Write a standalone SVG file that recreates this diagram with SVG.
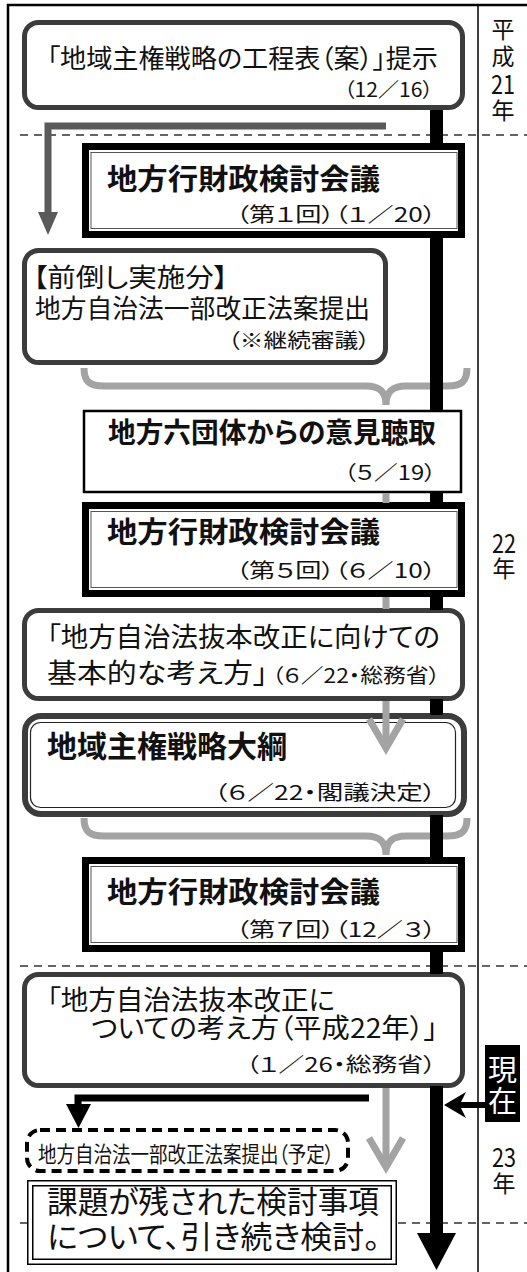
<svg xmlns="http://www.w3.org/2000/svg" width="527" height="1272" viewBox="0 0 527 1272">
<style>
text{font-family:"Noto Sans CJK JP","Noto Sans CJK SC",sans-serif;font-feature-settings:"palt";fill:#111}
.h{font-weight:400}
.b{font-weight:700}
.s{font-size:20px;font-weight:400}
.rb{fill:#fff;stroke:#3c3c3c;stroke-width:5}
.kb{fill:#fff;stroke:#000;stroke-width:7}
.ki{fill:none;stroke:#555;stroke-width:1}
.dash{stroke:#333;stroke-width:1.5;stroke-dasharray:8 6;fill:none}
.g1{stroke:#5a5a5a;stroke-width:7;fill:none}
.g2{stroke:#a3a3a3;stroke-width:7;fill:none}
.blk{stroke:#000;stroke-width:13;fill:none}
.yr{font-size:23px;font-weight:400}
</style>
<rect width="527" height="1272" fill="#fff"/>
<g id="frame">
<line x1="8" y1="4" x2="8" y2="1272" stroke="#000" stroke-width="2.5"/>
<line x1="7" y1="5" x2="527" y2="5" stroke="#000" stroke-width="2.5"/>
<line x1="478" y1="5" x2="478" y2="1272" stroke="#000" stroke-width="1.5"/>
<line class="dash" x1="20" y1="135" x2="527" y2="135"/>
<line class="dash" x1="20" y1="966" x2="527" y2="966"/>
<line class="dash" x1="20" y1="1223" x2="527" y2="1223"/>
</g>
<g id="years">
<text class="yr" text-anchor="middle"><tspan x="503" y="38">平</tspan><tspan x="503" y="65">成</tspan><tspan x="503" y="94" font-size="26" textLength="24" lengthAdjust="spacingAndGlyphs">21</tspan><tspan x="503" y="119">年</tspan></text>
<text class="yr" text-anchor="middle"><tspan x="504" y="553" font-size="26" textLength="24" lengthAdjust="spacingAndGlyphs">22</tspan><tspan x="504" y="577">年</tspan></text>
<text class="yr" text-anchor="middle"><tspan x="504" y="1167" font-size="26" textLength="24" lengthAdjust="spacingAndGlyphs">23</tspan><tspan x="504" y="1192">年</tspan></text>
</g>
<g id="n1">
<rect class="rb" x="24.5" y="22.5" width="438" height="85" rx="14"/>
<text class="h" x="47" y="68" font-size="26" textLength="391" lengthAdjust="spacingAndGlyphs">「地域主権戦略の工程表（案）」提示</text>
<text class="s" x="344" y="97" textLength="89" lengthAdjust="spacingAndGlyphs">（12／16）</text>
</g>
<g id="n2">
<rect class="kb" x="85.5" y="146.5" width="376" height="88"/>
<rect class="ki" x="91" y="152.5" width="366" height="76"/>
<text class="b" x="107" y="190" font-size="29" textLength="273" lengthAdjust="spacingAndGlyphs">地方行財政検討会議</text>
<text class="s" x="236" y="222" textLength="200" lengthAdjust="spacingAndGlyphs">（第１回）（１／20）</text>
</g>
<g id="n3">
<rect class="rb" x="24.5" y="250.5" width="361" height="112" rx="14"/>
<text class="h" x="33" y="287" font-size="26" textLength="195" lengthAdjust="spacingAndGlyphs">【前倒し実施分】</text>
<text class="h" x="35" y="318" font-size="26" textLength="335" lengthAdjust="spacingAndGlyphs">地方自治法一部改正法案提出</text>
<text class="s" x="228" y="348" font-size="21" textLength="142" lengthAdjust="spacingAndGlyphs">（※継続審議）</text>
</g>
<g id="n4">
<rect x="84" y="411" width="377" height="81" fill="#fff" stroke="#000" stroke-width="2.5"/>
<text class="b" x="108" y="443" font-size="28" textLength="328" lengthAdjust="spacingAndGlyphs">地方六団体からの意見聴取</text>
<text class="s" x="344" y="480" textLength="92" lengthAdjust="spacingAndGlyphs">（５／19）</text>
</g>
<g id="n5">
<rect class="kb" x="85.5" y="505.5" width="376" height="88"/>
<rect class="ki" x="91" y="511.5" width="366" height="76"/>
<text class="b" x="107" y="543" font-size="29" textLength="273" lengthAdjust="spacingAndGlyphs">地方行財政検討会議</text>
<text class="s" x="236" y="578" textLength="200" lengthAdjust="spacingAndGlyphs">（第５回）（６／10）</text>
</g>
<g id="n6">
<rect class="rb" x="24.5" y="610.5" width="438" height="88" rx="14"/>
<text class="h" x="47" y="647" font-size="27" textLength="393" lengthAdjust="spacingAndGlyphs">「地方自治法抜本改正に向けての</text>
<text class="h" x="47" y="683" font-size="27" textLength="221" lengthAdjust="spacingAndGlyphs">基本的な考え方」</text>
<text class="s" x="272" y="683" textLength="168" lengthAdjust="spacingAndGlyphs">（６／22・総務省）</text>
</g>
<g id="n7">
<rect x="25" y="716" width="439" height="98" rx="16" fill="#fff" stroke="#3c3c3c" stroke-width="6"/>
<rect x="30.5" y="722.5" width="425" height="85" rx="10" fill="none" stroke="#222" stroke-width="1.2"/>
<text class="b" x="47" y="757" font-size="30" textLength="240" lengthAdjust="spacingAndGlyphs">地域主権戦略大綱</text>
<text class="s" x="214" y="800" font-size="21" textLength="222" lengthAdjust="spacingAndGlyphs">（６／22・閣議決定）</text>
</g>
<g id="n8">
<rect class="kb" x="85.5" y="860.5" width="376" height="88"/>
<rect class="ki" x="91" y="866.5" width="366" height="76"/>
<text class="b" x="107" y="903" font-size="29" textLength="273" lengthAdjust="spacingAndGlyphs">地方行財政検討会議</text>
<text class="s" x="236" y="937" textLength="200" lengthAdjust="spacingAndGlyphs">（第７回）（12／３）</text>
</g>
<g id="n9">
<rect class="rb" x="24.5" y="974.5" width="438" height="111" rx="14"/>
<text class="h" x="47" y="1010" font-size="27" textLength="288" lengthAdjust="spacingAndGlyphs">「地方自治法抜本改正に</text>
<text class="h" x="91" y="1038" font-size="27" textLength="347" lengthAdjust="spacingAndGlyphs">ついての考え方（平成22年）」</text>
<text class="s" x="246" y="1072" font-size="21" textLength="190" lengthAdjust="spacingAndGlyphs">（１／26・総務省）</text>
</g>
<g id="n10">
<rect x="27" y="1130" width="321" height="41" rx="13" fill="#fff" stroke="#000" stroke-width="4" stroke-dasharray="10 6"/>
<text class="h" x="38" y="1162" font-size="22" textLength="296" lengthAdjust="spacingAndGlyphs">地方自治法一部改正法案提出（予定）</text>
</g>
<g id="n11">
<rect x="27.75" y="1180.75" width="368.5" height="83.5" fill="#fff" stroke="#000" stroke-width="1.5"/>
<rect x="32.75" y="1185.75" width="358.5" height="73.5" fill="none" stroke="#000" stroke-width="1.5"/>
<text class="h" x="47" y="1213" font-size="31" textLength="332" lengthAdjust="spacingAndGlyphs">課題が残された検討事項</text>
<text class="h" x="47" y="1248" font-size="31" textLength="333" lengthAdjust="spacingAndGlyphs">について、引き続き検討。</text>
</g>
<g id="now">
<rect x="485" y="1045" width="35" height="77" fill="#000"/>
<text font-size="29" text-anchor="middle" style="fill:#fff"><tspan x="502.5" y="1081">現</tspan><tspan x="502.5" y="1112">在</tspan></text>
</g>
<g id="connectors">
<path class="g1" d="M386,126 H48 V214"/>
<polygon points="38,212 58,212 48,235" fill="#5a5a5a"/>
<path class="g2" d="M84,368 C84,382 90,386 104,386 L366,386 C380,386 386,392 386,405 M467,368 C467,382 461,386 447,386 L406,386 C392,386 386,392 386,405"/>
<path class="g2" d="M84,818 C84,832 90,836 104,836 L366,836 C380,836 386,842 386,855 M467,818 C467,832 461,836 447,836 L406,836 C392,836 386,842 386,855"/>
<path class="g2" d="M386,493 V503 M386,597 V609 M386,701 V748 M386,1088 V1166"/>
<polyline class="g2" stroke-width="8" points="369,719 386,748 403,719"/>
<polyline class="g2" stroke-width="8" points="369,1138 386,1167 403,1138"/>
<path class="blk" d="M436.5,110 V145 M436.5,236 V412 M436.5,491 V504 M436.5,595 V610 M436.5,699 V715 M436.5,815 V859 M436.5,951 V974 M436.5,1086 V1236"/>
<polygon points="417,1233 456,1233 436.5,1270" fill="#000"/>
<path d="M369,1098 H78 V1106" stroke="#000" stroke-width="7" fill="none"/>
<polygon points="66,1104 91,1104 78.5,1128" fill="#000"/>
<polygon points="444,1105 466,1092 461,1102 486,1102 486,1108 461,1108 466,1118" fill="#000"/>
</g>
</svg>
